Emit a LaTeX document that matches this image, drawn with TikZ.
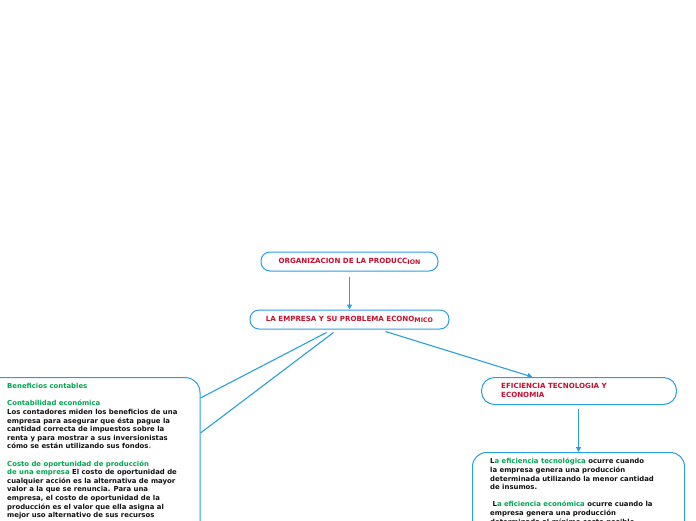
\documentclass[tikz,border=0pt]{standalone}
\usepackage{fontspec}
\setmainfont{DejaVu Sans}
\usetikzlibrary{arrows.meta}
\definecolor{lineblue}{HTML}{2A9FE0}
\definecolor{titlered}{HTML}{C8102E}
\definecolor{textgreen}{HTML}{00A651}
\definecolor{textblack}{HTML}{111111}
\tikzset{
 box/.style={draw=lineblue, line width=1pt, rounded corners=10pt, fill=white, inner sep=0pt},
 conn/.style={draw=lineblue, line width=1.1pt},
 arr/.style={conn, -{Triangle[length=5pt,width=5pt]}},
 body/.style={inner sep=0pt, align=left, font=\fontsize{6.9}{8.6}\selectfont\bfseries, text=textblack, anchor=north west},
 titletext/.style={font=\fontsize{7.1}{9}\selectfont\bfseries, text=titlered}
}
\newcommand{\grn}[1]{\textcolor{textgreen}{#1}}
\newcommand{\lowsmall}[1]{\raisebox{-1pt}{\fontsize{6.3}{7}\selectfont #1}}
\begin{document}
\begin{tikzpicture}[x=1pt,y=-1pt]
\useasboundingbox (0,0) rectangle (696,520);
\clip (0,0) rectangle (696,520);
\fill[white] (0,0) rectangle (696,520);
% boxes
\node[box, titletext, rounded corners=9pt, minimum width=177pt, minimum height=19pt] (org) at (349.5,261.5) {ORGANIZACION DE LA PRODUCC\lowsmall{ION}};
\node[box, titletext, rounded corners=9pt, minimum width=199pt, minimum height=19pt] (emp) at (349.5,319.5) {LA EMPRESA Y SU PROBLEMA ECONO\lowsmall{MICO}};
\node[box, rounded corners=15pt, minimum width=230pt, minimum height=200pt, anchor=north east] (lb) at (200.5,377) {};
\node[box, rounded corners=13pt, minimum width=195pt, minimum height=27pt, anchor=north west] (eft) at (481,377) {};
\node[box, rounded corners=14pt, minimum width=212pt, minimum height=120pt, anchor=north west] (rb) at (472,452) {};
% texts
\node[titletext, inner sep=0pt, align=left, anchor=north west, font=\fontsize{7.1}{9}\selectfont\bfseries] (eftt) at (501,383) {EFICIENCIA TECNOLOGIA Y\\ECONOMIA};
\node[body] (lbt) at (7,383.2) {\grn{Beneficios contables}\\[8.6pt]
\grn{Contabilidad económica}\\
Los contadores miden los beneficios de una\\
empresa para asegurar que ésta pague la\\
cantidad correcta de impuestos sobre la\\
renta y para mostrar a sus inversionistas\\
cómo se están utilizando sus fondos\grn{.}\\[8.6pt]
\grn{Costo de oportunidad de producción}\\
\grn{de una empresa} El costo de oportunidad de\\
cualquier acción es la alternativa de mayor\\
valor a la que se renuncia. Para una\\
empresa, el costo de oportunidad de la\\
producción es el valor que ella asigna al\\
mejor uso alternativo de sus recursos};
\node[body] (rbt) at (490,458.2) {L\grn{a eficiencia tecnológica} ocurre cuando\\
la empresa genera una producción\\
determinada utilizando la menor cantidad\\
de insumos.\\[8.6pt]
\ L\grn{a eficiencia económica} ocurre cuando la\\
empresa genera una producción\\
determinada al mínimo costo posible.};
% connectors
\draw[arr] ([yshift=-5pt]org.south) -- (emp.north);
\draw[conn] ([xshift=-23pt,yshift=-3pt]emp.south) -- ([yshift=-21pt]lb.north east);
\draw[conn] ([xshift=-16pt,yshift=-3pt]emp.south) -- ([yshift=-56pt]lb.north east);
\draw[arr] ([xshift=36pt,yshift=-2pt]emp.south) -- ([xshift=-46.5pt]eft.north);
\draw[arr] ([xshift=-0.5pt,yshift=-4pt]eft.south) -- ([xshift=0pt]rb.north);
\end{tikzpicture}
\end{document}
